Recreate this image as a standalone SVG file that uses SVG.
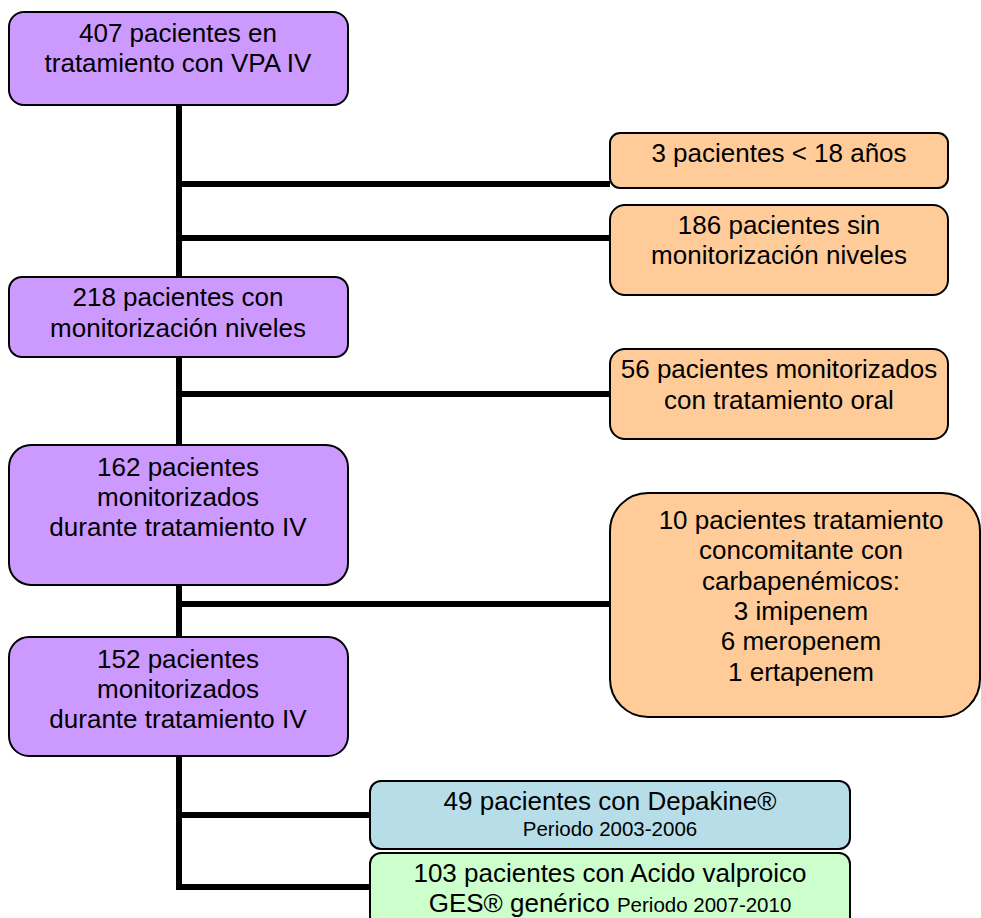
<svg xmlns="http://www.w3.org/2000/svg" width="981" height="918" viewBox="0 0 981 918">
<style>
.b{stroke:#000;stroke-width:2}
.p{fill:#CC99FF}
.o{fill:#FFCC99}
.bl{fill:#B7DEE8}
.g{fill:#CCFFCC}
text{font-family:"Liberation Sans",Arial,sans-serif;font-size:26px;fill:#000;text-anchor:middle}
.s{font-size:20.5px}
.c{stroke:#000;stroke-width:6;fill:none}
</style>
<rect width="981" height="918" fill="#fff"/>
<g id="connectors">
<line class="c" x1="179" y1="104" x2="179" y2="890"/>
<line class="c" x1="176" y1="184" x2="610" y2="184"/>
<line class="c" x1="176" y1="238" x2="610" y2="238"/>
<line class="c" x1="176" y1="394" x2="610" y2="394"/>
<line class="c" x1="176" y1="604" x2="610" y2="604"/>
<line class="c" x1="176" y1="815" x2="370" y2="815"/>
<line class="c" x1="176" y1="887" x2="370" y2="887"/>
</g>
<g id="n407"><rect class="b p" x="9" y="12" width="339" height="93" rx="15"/>
<text x="178" y="42">407 pacientes en</text><text x="178" y="72">tratamiento con VPA IV</text></g>
<g id="n3"><rect class="b o" x="610" y="133" width="338" height="55" rx="10"/>
<text x="779" y="162">3 pacientes &lt; 18 años</text></g>
<g id="n186"><rect class="b o" x="610" y="205" width="338" height="90" rx="15"/>
<text x="779" y="234">186 pacientes sin</text><text x="779" y="264">monitorización niveles</text></g>
<g id="n218"><rect class="b p" x="9" y="277" width="339" height="80" rx="13"/>
<text x="178" y="306">218 pacientes con</text><text x="178" y="337">monitorización niveles</text></g>
<g id="n56"><rect class="b o" x="610" y="349" width="338" height="90" rx="15"/>
<text x="779" y="378">56 pacientes monitorizados</text><text x="779" y="409">con tratamiento oral</text></g>
<g id="n162"><rect class="b p" x="9" y="445" width="339" height="140" rx="22"/>
<text x="178" y="476">162 pacientes</text><text x="178" y="506">monitorizados</text><text x="178" y="536">durante tratamiento IV</text></g>
<g id="n10"><rect class="b o" x="610" y="493" width="370" height="224" rx="38"/>
<text x="801" y="529">10 pacientes tratamiento</text><text x="801" y="559">concomitante con</text><text x="801" y="590">carbapenémicos:</text><text x="801" y="620">3 imipenem</text><text x="801" y="650">6 meropenem</text><text x="801" y="681">1 ertapenem</text></g>
<g id="n152"><rect class="b p" x="9" y="637" width="339" height="119" rx="20"/>
<text x="178" y="668">152 pacientes</text><text x="178" y="698">monitorizados</text><text x="178" y="728">durante tratamiento IV</text></g>
<g id="n49"><rect class="b bl" x="370" y="781" width="480" height="68" rx="11"/>
<text x="610" y="810">49 pacientes con Depakine®</text><text class="s" x="610" y="836">Periodo 2003-2006</text></g>
<g id="n103"><rect class="b g" x="370" y="853" width="480" height="75" rx="11"/>
<text x="610" y="882">103 pacientes con Acido valproico</text><text x="610" y="912">GES® genérico <tspan class="s">Periodo 2007-2010</tspan></text></g>
</svg>
